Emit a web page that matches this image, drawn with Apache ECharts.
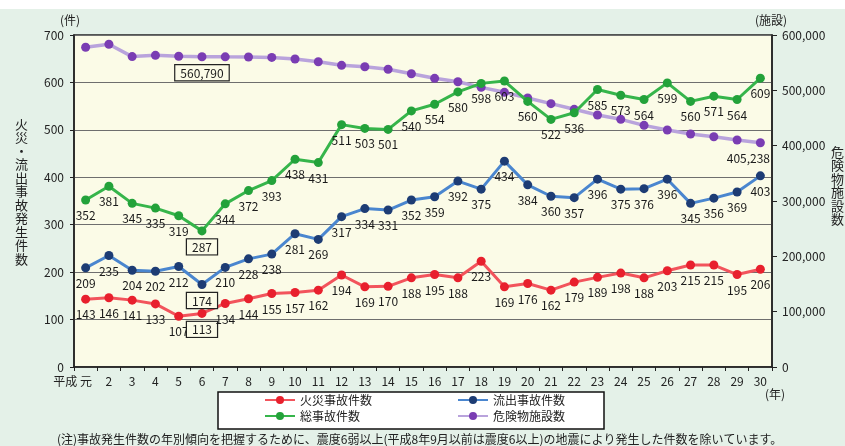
<!DOCTYPE html>
<html>
<head>
<meta charset="utf-8">
<script src="https://cdn.jsdelivr.net/npm/echarts@6/dist/echarts.min.js"></script>
<style>html,body{margin:0;padding:0;}#c{width:845px;height:446px;}</style>
</head>
<body>
<div id="c"></div>
<script>
const years = ['元','2','3','4','5','6','7','8','9','10','11','12','13','14','15','16','17','18','19','20','21','22','23','24','25','26','27','28','29','30'];
const fireCounts = [143,146,141,133,107,113,134,144,155,157,162,194,169,170,188,195,188,223,169,176,162,179,189,198,188,203,215,215,195,206];
const leakCounts = [209,235,204,202,212,174,210,228,238,281,269,317,334,331,352,359,392,375,434,384,360,357,396,375,376,396,345,356,369,403];
const totalCounts = [352,381,345,335,319,287,344,372,393,438,431,511,503,501,540,554,580,598,603,560,522,536,585,573,564,599,560,571,564,609];
const facilities = [577800,583200,561000,563300,561500,560790,560500,560300,559500,556600,551700,545200,542700,538000,530000,521700,515600,505400,496400,486100,475900,465700,455400,447600,436700,428300,421100,416200,410200,405238];
const leftTicks = {min:0, max:700, interval:100};
const rightTicks = {min:0, max:600000, interval:100000};
const boxedIndex = 5;

const FONT = '"Noto Sans CJK JP", "Noto Sans", sans-serif';
const PLOT_BG = '#fbfbe7';
const fmt = v => String(v).replace(/\B(?=(\d{3})+(?!\d))/g, ',');

function makeData(arr) {
  return arr.map((v, i) => {
    const d = {value: v};
    if (i === boxedIndex) {
      d.label = {borderColor:'#222', borderWidth:1.2, padding:[2,5,1,5], backgroundColor: PLOT_BG, distance: 4};
    }
    return d;
  });
}
const baseLabel = {show:true, position:'bottom', distance:5, fontFamily:FONT, fontSize:12, color:'#1a1a1a'};

const facData = facilities.map((v, i) => {
  const d = {value: v};
  if (i === boxedIndex) {
    d.label = {show:true, borderColor:'#222', borderWidth:1.2, padding:[2,5,1,5], backgroundColor: PLOT_BG, distance: 4};
  } else if (i === facilities.length - 1) {
    d.label = {show:true, offset:[-12,0]};
  } else {
    d.label = {show:false};
  }
  return d;
});

const chart = echarts.init(document.getElementById('c'));
chart.setOption({
  backgroundColor:'#e4f1e8',
  animation:false,
  grid:{left:74, right:73, top:35, bottom:79, show:true, backgroundColor:PLOT_BG, borderColor:'#222', borderWidth:1.5},
  xAxis:{
    type:'category', data:years, boundaryGap:true,
    axisLine:{lineStyle:{color:'#222', width:1.5}},
    axisTick:{show:true, interval:0, length:4, lineStyle:{color:'#222'}},
    axisLabel:{interval:0, fontFamily:FONT, fontSize:12, color:'#222', margin:8,
      formatter: (v, i) => i === 0 ? '{a|平成 }元{b|}' : v,
      rich:{a:{fontFamily:FONT, fontSize:12, color:'#222'}, b:{width:26}}}
  },
  yAxis:[
    {type:'value', min:leftTicks.min, max:leftTicks.max, interval:leftTicks.interval,
      axisLine:{show:true, lineStyle:{color:'#222', width:1.5}},
      axisTick:{show:true, length:4, lineStyle:{color:'#222'}},
      axisLabel:{fontFamily:FONT, fontSize:12, color:'#222', margin:10},
      splitLine:{show:true, lineStyle:{color:'#6e6e6e', width:1.2}}},
    {type:'value', min:rightTicks.min, max:rightTicks.max, interval:rightTicks.interval, position:'right',
      axisLine:{show:true, lineStyle:{color:'#222', width:1.5}},
      axisTick:{show:true, length:5, lineStyle:{color:'#222'}},
      axisLabel:{fontFamily:FONT, fontSize:12, color:'#222', margin:10, formatter: v => fmt(v)},
      splitLine:{show:false}}
  ],
  legend:[
    {left:264, top:394, orient:'vertical', itemGap:4, itemWidth:30, itemHeight:10,
      data:['火災事故件数','総事故件数'], textStyle:{fontFamily:FONT, fontSize:12, color:'#222'}, padding:0},
    {left:457, top:394, orient:'vertical', itemGap:4, itemWidth:30, itemHeight:10,
      data:['流出事故件数','危険物施設数'], textStyle:{fontFamily:FONT, fontSize:12, color:'#222'}, padding:0}
  ],
  graphic:[
    {type:'rect', shape:{x:0, y:0, width:845, height:9}, style:{fill:'#ffffff'}, z:-10, silent:true},
    {type:'rect', shape:{x:218, y:392, width:386, height:37}, style:{fill:'#ffffff', stroke:'#111', lineWidth:1.5}, z:0, silent:true},
    {type:'text', left:60, top:14, style:{text:'(件)', font:'12px '+FONT, fill:'#222'}},
    {type:'text', left:755, top:14, style:{text:'(施設)', font:'12px '+FONT, fill:'#222'}},
    {type:'text', left:765, top:388, style:{text:'(年)', font:'12px '+FONT, fill:'#222'}},
    {type:'text', left:15, top:117, style:{text:'火\n災\n・\n流\n出\n事\n故\n発\n生\n件\n数', font:'13px '+FONT, fill:'#222', lineHeight:13.5, align:'center'}},
    {type:'text', left:831, top:145, style:{text:'危\n険\n物\n施\n設\n数', font:'13px '+FONT, fill:'#222', lineHeight:13.5, align:'center'}},
    {type:'text', left:57, top:433, style:{text:'(注)事故発生件数の年別傾向を把握するために、震度6弱以上(平成8年9月以前は震度6以上)の地震により発生した件数を除いています。', font:'12px '+FONT, fill:'#222'}}
  ],
  series:[
    {name:'危険物施設数', type:'line', yAxisIndex:1, data:facData, symbol:'circle', symbolSize:9,
      lineStyle:{color:'#b9a3dc', width:3.5}, itemStyle:{color:'#7a3db3'},
      label:Object.assign({}, baseLabel, {formatter: p => fmt(p.value)}), z:2},
    {name:'総事故件数', type:'line', data:makeData(totalCounts), symbol:'circle', symbolSize:9,
      lineStyle:{color:'#36b54b', width:3}, itemStyle:{color:'#23a23a'}, label:baseLabel, z:3},
    {name:'流出事故件数', type:'line', data:makeData(leakCounts), symbol:'circle', symbolSize:9,
      lineStyle:{color:'#4a86cf', width:3}, itemStyle:{color:'#1d3c74'}, label:baseLabel, z:3},
    {name:'火災事故件数', type:'line', data:makeData(fireCounts), symbol:'circle', symbolSize:9,
      lineStyle:{color:'#f2545c', width:3}, itemStyle:{color:'#e8202d'}, label:baseLabel, z:3}
  ]
});
</script>
</body>
</html>
